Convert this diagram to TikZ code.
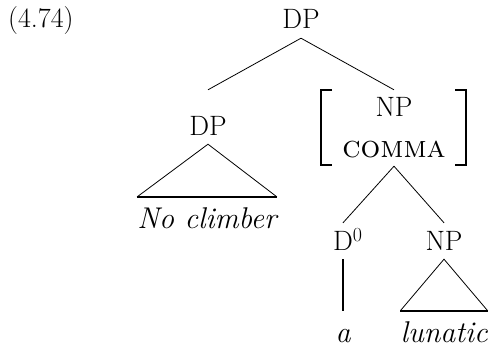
\documentclass[tikz,border=0pt]{standalone}
\usepackage{fontspec}
\newcommand\treefont{\fontsize{28}{34}\selectfont}
\tikzset{
  cat/.style={anchor=base,inner xsep=2pt,inner ysep=9pt,text height=18pt,text depth=0pt},
  leaf/.style={anchor=base,inner xsep=0pt,inner ysep=11pt,text height=20pt,text depth=0pt,font=\fontsize{30}{34}\selectfont\itshape},
  branch/.style={line width=0.8pt},
  roof/.style={line width=2.2pt},
  brk/.style={line width=1.6pt}
}
\begin{document}
\begin{tikzpicture}[x=1pt,y=-1pt,font=\treefont]
  \useasboundingbox (0,0) rectangle (489,350);
  \node[anchor=base west,inner sep=0pt] (exno) at (8,28) {(4.74)};
  % categories
  \node[cat] (topdp) at (301,29) {DP};
  \node[cat] (dp) at (208,135) {DP};
  \node[cat] (np) at (394,117) {NP};
  \node[cat] (comma) at (394,157) {\fontsize{31}{34}\selectfont\textsc{comma}};
  \node[cat] (d) at (343,250) {D\rlap{\fontsize{20}{22}\selectfont\raisebox{9pt}{0}}};
  \node[cat] (np2) at (444,250) {NP};
  % words
  \node[leaf] (noclimber) at (207,228) {No climber};
  \node[leaf] (a) at (343,342) {a};
  \node[leaf] (lunatic) at (444,342) {lunatic};
  % feature brackets
  \draw[brk] (332,90) -- (321,90) -- (321,165) -- (332,165);
  \draw[brk] (455,90) -- (466,90) -- (466,165) -- (455,165);
  % branches
  \draw[branch] (topdp.south) -- (dp.north |- np.north);
  \draw[branch] (topdp.south) -- (np.north);
  \draw[branch] (comma.south) -- (d.north);
  \draw[branch] (comma.south) -- (np2.north);
  \draw[line width=1.6pt] (d.south) -- (a.north);
  % roofs
  \draw[branch] (noclimber.north west) -- (dp.south) -- (noclimber.north east);
  \draw[roof] (noclimber.north west) -- (noclimber.north east);
  \draw[branch] (lunatic.north west) -- (np2.south) -- (lunatic.north east);
  \draw[roof] (lunatic.north west) -- (lunatic.north east);
\end{tikzpicture}
\end{document}
